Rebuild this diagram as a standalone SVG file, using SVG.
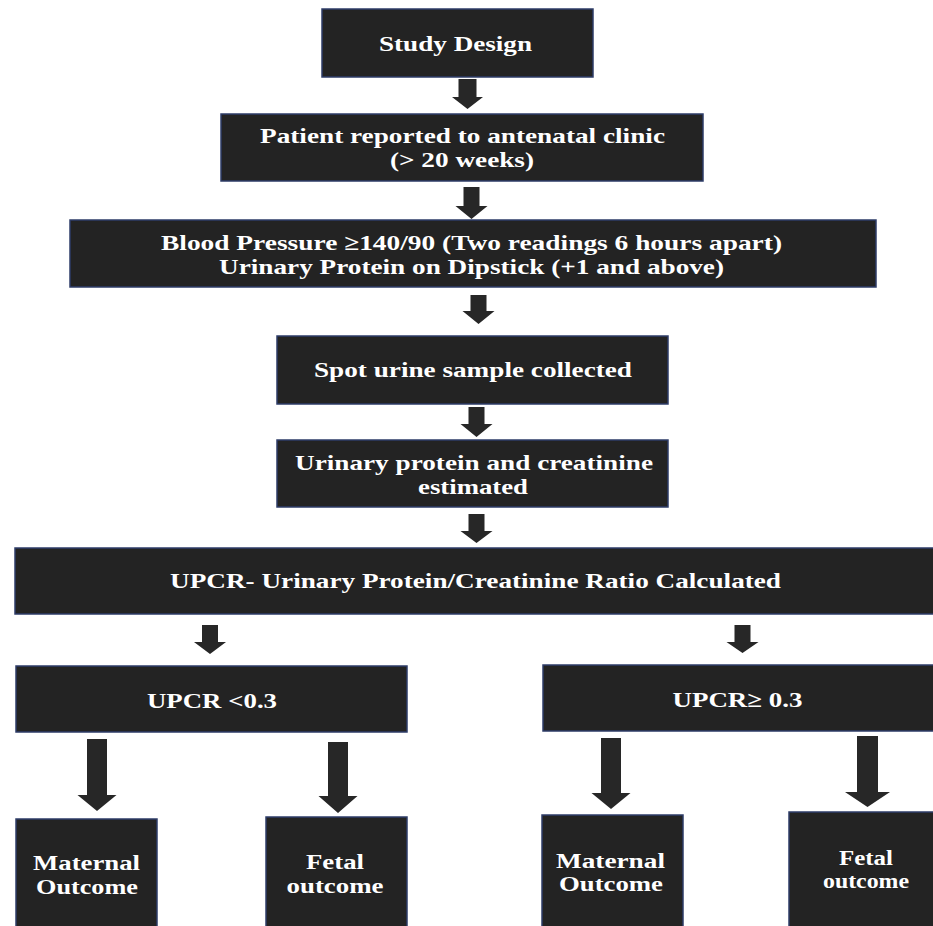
<svg xmlns="http://www.w3.org/2000/svg" width="933" height="926" viewBox="0 0 933 926">
<style>
.box{fill:#232323;stroke:#2e3d68;stroke-width:1.5}
.t{font-family:"Liberation Serif","Times New Roman",serif;font-weight:bold;font-size:22px;fill:#ffffff;text-anchor:middle}
.s{font-size:20px}
.arr{fill:#272727}
</style>
<rect width="933" height="926" fill="#ffffff"/>
<g id="connectors">
<path class="arr" d="M458.5 79H476.5V97H483L467.5 109L452 97H458.5Z"/>
<path class="arr" d="M463.5 187H479.5V206H487.5L471.5 219L455.5 206H463.5Z"/>
<path class="arr" d="M470.5 295H486.5V311H494.5L478.5 324L462.5 311H470.5Z"/>
<path class="arr" d="M468.5 407H484.5V424H492.5L476.5 437L460.5 424H468.5Z"/>
<path class="arr" d="M468.5 514H484.5V531H492.5L476.5 543L460.5 531H468.5Z"/>
<path class="arr" d="M202 625H218V642H226L210 654L194 642H202Z"/>
<path class="arr" d="M734.5 625H750.5V642H758.5L742.5 653L726.5 642H734.5Z"/>
<path class="arr" d="M87 739H107V795H116.5L97 811L77.5 795H87Z"/>
<path class="arr" d="M328 742H348V796H357.5L338 813L318.5 796H328Z"/>
<path class="arr" d="M601 738H621V793H630.5L611 809L591.5 793H601Z"/>
<path class="arr" d="M857 736H878V792H890L867.5 807L845 792H857Z"/>
</g>
<g id="study-design">
<rect class="box" x="322" y="9" width="271" height="68"/>
<text class="t" x="455.5" y="51" textLength="153" lengthAdjust="spacingAndGlyphs">Study Design</text>
</g>
<g id="patient">
<rect class="box" x="221" y="114" width="482" height="67"/>
<text class="t" x="462.5" y="143" textLength="405" lengthAdjust="spacingAndGlyphs">Patient reported to antenatal clinic</text>
<text class="t" x="462" y="167" textLength="144" lengthAdjust="spacingAndGlyphs">(&gt; 20 weeks)</text>
</g>
<g id="criteria">
<rect class="box" x="70" y="220" width="806" height="67"/>
<text class="t" x="471.5" y="250" textLength="621" lengthAdjust="spacingAndGlyphs">Blood Pressure ≥140/90 (Two readings 6 hours apart)</text>
<text class="t" x="471.5" y="274" textLength="505" lengthAdjust="spacingAndGlyphs">Urinary Protein on Dipstick (+1 and above)</text>
</g>
<g id="spot-urine">
<rect class="box" x="277" y="336" width="391" height="68"/>
<text class="t" x="473" y="377" textLength="318" lengthAdjust="spacingAndGlyphs">Spot urine sample collected</text>
</g>
<g id="estimated">
<rect class="box" x="277" y="440" width="391" height="67"/>
<text class="t" x="474" y="470" textLength="358" lengthAdjust="spacingAndGlyphs">Urinary protein and creatinine</text>
<text class="t" x="473" y="494" textLength="110" lengthAdjust="spacingAndGlyphs">estimated</text>
</g>
<g id="upcr-calc">
<rect class="box" x="15" y="548" width="925" height="66"/>
<text class="t" x="475.5" y="588" textLength="611" lengthAdjust="spacingAndGlyphs">UPCR- Urinary Protein/Creatinine Ratio Calculated</text>
</g>
<g id="upcr-low">
<rect class="box" x="16" y="666" width="391" height="66"/>
<text class="t" x="212" y="708" textLength="130" lengthAdjust="spacingAndGlyphs">UPCR &lt;0.3</text>
</g>
<g id="upcr-high">
<rect class="box" x="543" y="665" width="395" height="66"/>
<text class="t" x="737.5" y="707" textLength="130" lengthAdjust="spacingAndGlyphs">UPCR≥ 0.3</text>
</g>
<g id="maternal-low">
<rect class="box" x="16" y="819" width="141" height="112"/>
<text class="t s" x="86.5" y="870" textLength="107" lengthAdjust="spacingAndGlyphs">Maternal</text>
<text class="t s" x="87" y="894" textLength="102" lengthAdjust="spacingAndGlyphs">Outcome</text>
</g>
<g id="fetal-low">
<rect class="box" x="266" y="817" width="141" height="114"/>
<text class="t s" x="335" y="869" textLength="58" lengthAdjust="spacingAndGlyphs">Fetal</text>
<text class="t s" x="335" y="893" textLength="97" lengthAdjust="spacingAndGlyphs">outcome</text>
</g>
<g id="maternal-high">
<rect class="box" x="542" y="815" width="141" height="116"/>
<text class="t s" x="610.5" y="868" textLength="109" lengthAdjust="spacingAndGlyphs">Maternal</text>
<text class="t s" x="611" y="891" textLength="104" lengthAdjust="spacingAndGlyphs">Outcome</text>
</g>
<g id="fetal-high">
<rect class="box" x="789" y="812" width="150" height="119"/>
<text class="t s" x="866" y="865" textLength="54" lengthAdjust="spacingAndGlyphs">Fetal</text>
<text class="t s" x="866" y="888" textLength="86" lengthAdjust="spacingAndGlyphs">outcome</text>
</g>
</svg>
